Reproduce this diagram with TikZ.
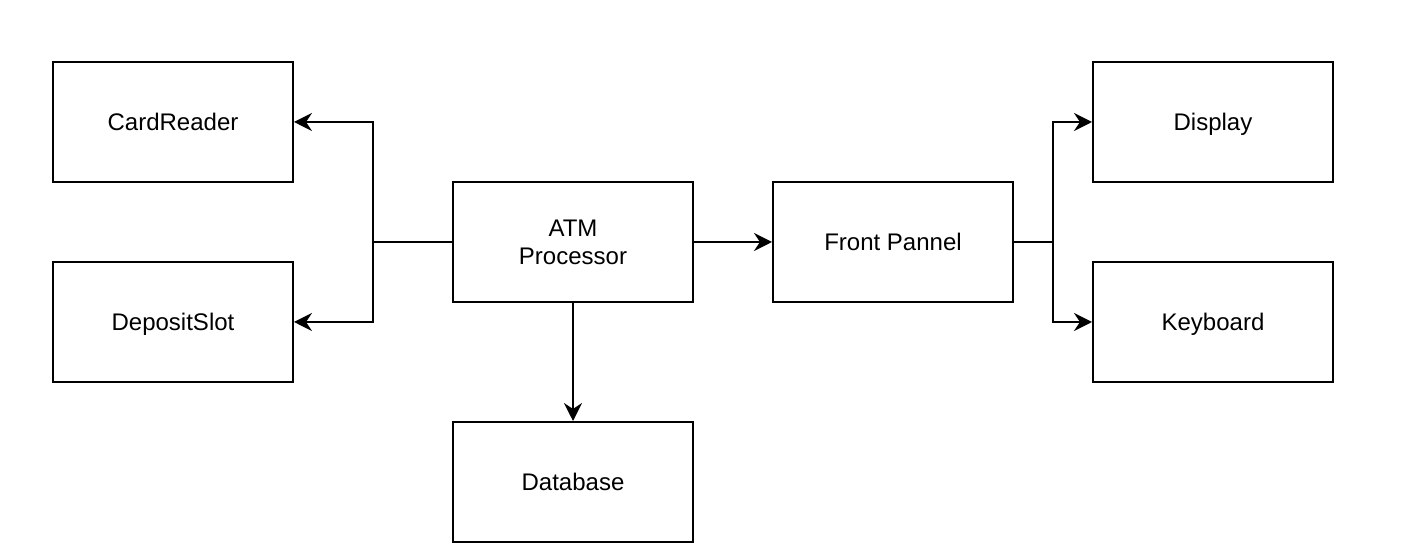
\documentclass[tikz,border=0pt]{standalone}
\usepackage{fontspec}
\setmainfont{Liberation Sans}
\usetikzlibrary{arrows.meta}
\tikzset{
  unit/.style={draw, line width=1pt, minimum width=120pt, minimum height=60pt, align=center, font=\fontsize{12}{14}\selectfont, text height=8.6pt, text depth=0pt},
  link/.style={line width=1pt, -{Stealth[length=9pt,width=9pt,inset=3pt]}}
}
\begin{document}
\begin{tikzpicture}[x=0.5pt,y=-0.5pt]
\useasboundingbox (0,0) rectangle (1404,560);
\node[unit] (card) at (173,122) {CardReader};
\node[unit] (slot) at (173,322) {DepositSlot};
\node[unit, text height=, text depth=] (atm) at (573,242) {ATM\\Processor};
\node[unit] (front) at (893,242) {Front Pannel};
\node[unit] (disp) at (1213,122) {Display};
\node[unit] (keys) at (1213,322) {Keyboard};
\node[unit] (db) at (573,482) {Database};
\coordinate (lsplit) at (373,242);
\coordinate (rsplit) at (1053,242);
\draw[line width=1pt] (atm.west) -- (lsplit);
\draw[link] (lsplit) |- (card.east);
\draw[link] (lsplit) |- (slot.east);
\draw[link] (atm.east) -- (front.west);
\draw[link] (atm.south) -- (db.north);
\draw[line width=1pt] (front.east) -- (rsplit);
\draw[link] (rsplit) |- (disp.west);
\draw[link] (rsplit) |- (keys.west);
\end{tikzpicture}
\end{document}
